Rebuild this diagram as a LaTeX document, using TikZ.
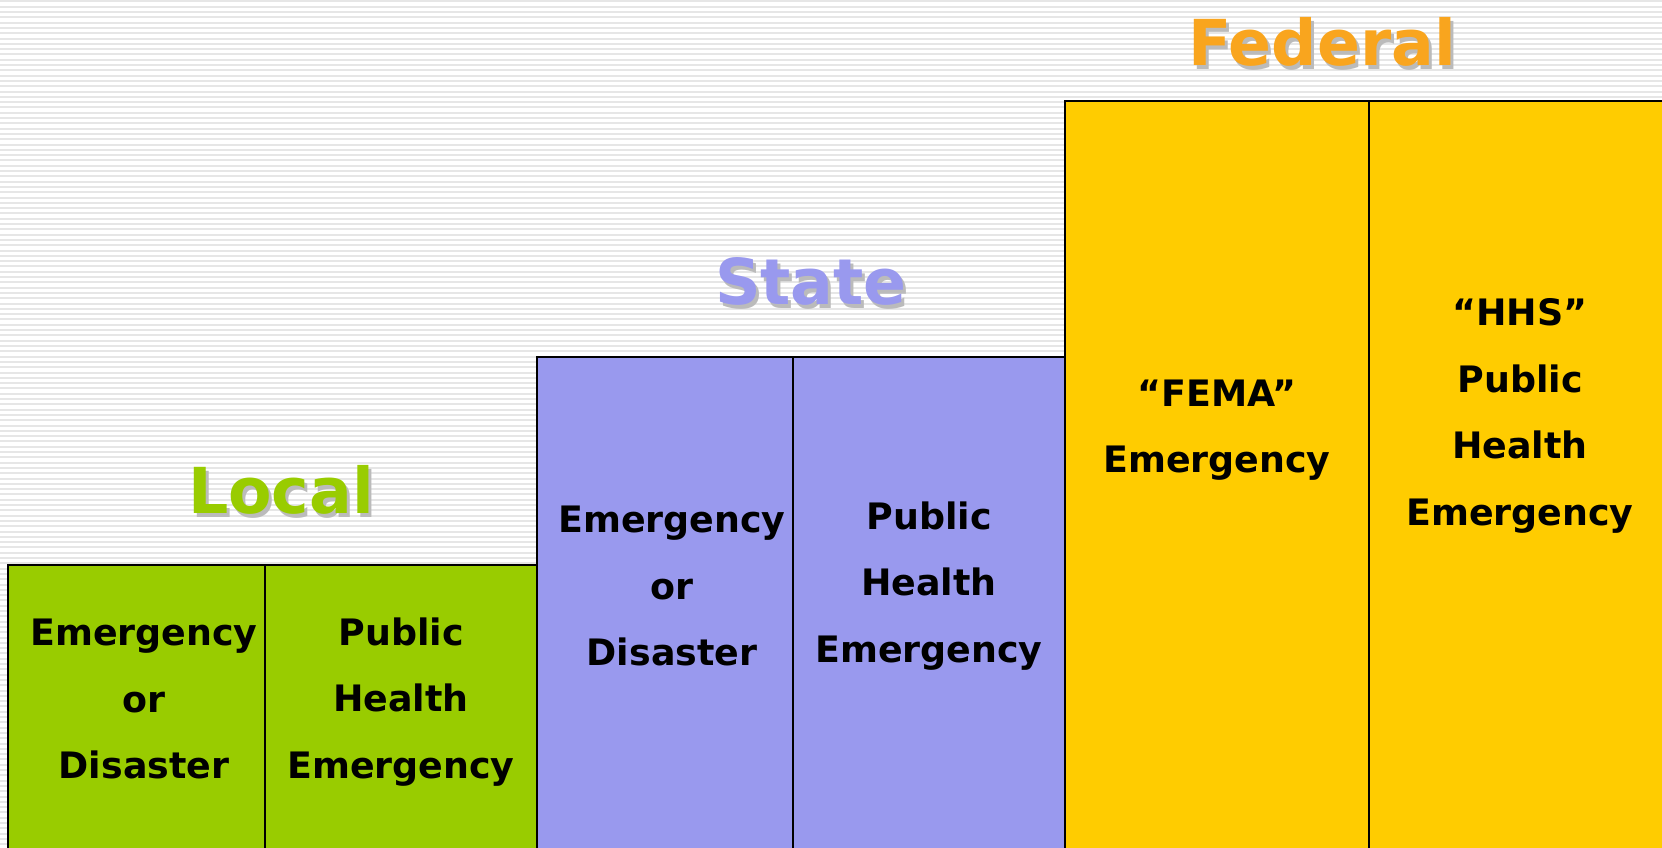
\documentclass[tikz,border=0pt]{standalone}
\usepackage{fontspec}
\setmainfont{DejaVu Sans}
\usepackage{tikz}

\definecolor{localgreen}{HTML}{99CC00}
\definecolor{statepurple}{HTML}{9999EE}
\definecolor{fedyellow}{HTML}{FFCC00}
\definecolor{fedorange}{HTML}{F9A51E}
\definecolor{stripegray}{HTML}{E6E6E6}
\definecolor{shadowgray}{HTML}{BBBBBB}

\begin{document}
\begin{tikzpicture}[x=0.75pt,y=-0.75pt,
  levelbox/.style={draw=black,line width=2pt},
  boxtext/.style={align=center,inner sep=0pt,font=\fontsize{27.3}{50}\selectfont\bfseries},
  leveltitle/.style={inner sep=0pt,font=\fontsize{47.5}{50}\selectfont\bfseries},
  titleshadow/.style={leveltitle,text=shadowgray}]
\useasboundingbox (0,0) rectangle (1662,848);
\clip (0,0) rectangle (1662,848);
% striped background
\foreach \y in {1.5,6.8,...,850}
  \draw[stripegray,line width=1.5pt] (0,\y) -- (1662,\y);

% local
\draw[levelbox,fill=localgreen] (8,565) rectangle (265,870);
\draw[levelbox,fill=localgreen] (265,565) rectangle (537,870);
\node[boxtext] (locemer) at (144,699) {Emergency\\or\\Disaster};
\node[boxtext] (locph) at (401,702) {Public\\Health\\Emergency};
\node[titleshadow] (localsh) at (284,494) {Local};
\node[leveltitle,text=localgreen] (local) at (281,490) {Local};

% state
\draw[levelbox,fill=statepurple] (537,357) rectangle (793,870);
\draw[levelbox,fill=statepurple] (793,357) rectangle (1065,870);
\node[boxtext] (stemer) at (672,586) {Emergency\\or\\Disaster};
\node[boxtext] (stph) at (929,586) {Public\\Health\\Emergency};
\node[titleshadow] (statesh) at (814,285) {State};
\node[leveltitle,text=statepurple] (state) at (811,281) {State};

% federal
\draw[levelbox,fill=fedyellow] (1065,101) rectangle (1369,870);
\draw[levelbox,fill=fedyellow] (1369,101) rectangle (1680,870);
\node[boxtext] (fema) at (1217,430) {“FEMA”\\Emergency};
\node[boxtext] (hhs) at (1520,416) {“HHS”\\Public\\Health\\Emergency};
\node[titleshadow] (fedsh) at (1325,46) {Federal};
\node[leveltitle,text=fedorange] (fed) at (1322,42) {Federal};
\end{tikzpicture}
\end{document}
